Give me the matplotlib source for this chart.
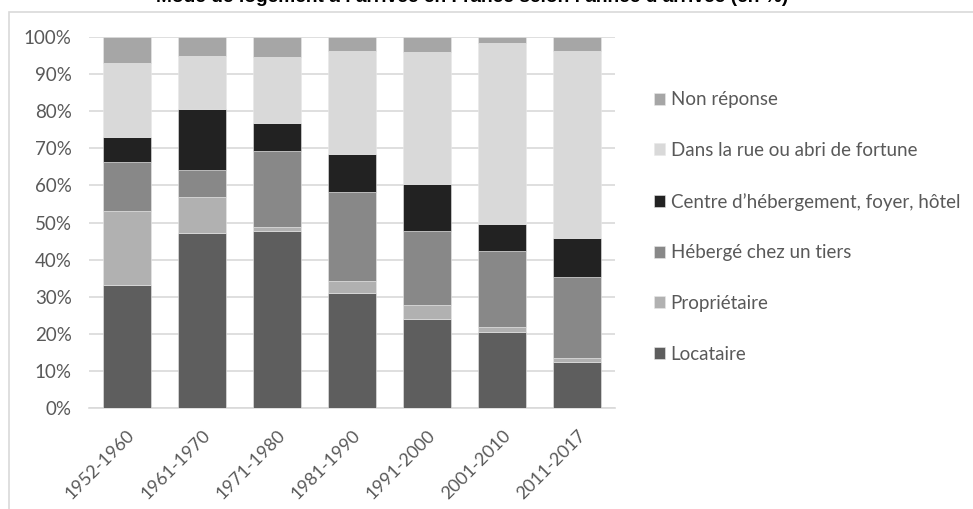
import numpy as np
import matplotlib.pyplot as plt
from matplotlib.patches import Rectangle

periodes = ['1952-1960', '1961-1970', '1971-1980', '1981-1990',
            '1991-2000', '2001-2010', '2011-2017']

# parts en % (de bas en haut)
locataire = [33.2, 47.1, 47.7, 31.1, 23.9, 20.6, 12.3]
proprietaire = [19.9, 9.8, 1.2, 3.2, 3.9, 1.3, 1.3]
heberge_tiers = [13.3, 7.2, 20.5, 24.0, 19.9, 20.4, 21.6]
centre_hebergement = [6.6, 16.6, 7.4, 10.1, 12.7, 7.4, 10.7]
rue_abri = [19.9, 14.3, 17.9, 27.8, 35.6, 48.6, 50.3]
non_reponse = [7.1, 5.0, 5.3, 3.8, 4.0, 1.7, 3.8]

series = [
    ('Locataire', locataire, '#5e5e5e'),
    ('Propriétaire', proprietaire, '#b1b1b1'),
    ('Hébergé chez un tiers', heberge_tiers, '#888888'),
    ('Centre d\u2019hébergement, foyer, hôtel', centre_hebergement, '#222222'),
    ('Dans la rue ou abri de fortune', rue_abri, '#d9d9d9'),
    ('Non réponse', non_reponse, '#a6a6a6'),
]

plt.rcParams['font.family'] = ['Lato', 'DejaVu Sans']

fig = plt.figure(figsize=(9.73, 5.09), dpi=100)
ax = fig.add_axes([89 / 973, 1 - 408 / 509, 526 / 973, 371 / 509])

x = np.arange(len(periodes))
bas = np.zeros(len(periodes))
handles = []
for nom, vals, coul in series:
    b = ax.bar(x, vals, width=0.64, bottom=bas, color=coul, label=nom,
               edgecolor='#e8e8e8', linewidth=0.4, zorder=3)
    handles.append(b)
    bas += np.array(vals)

ax.set_xlim(-0.5, len(periodes) - 0.5)
ax.set_ylim(0, 100)
ax.set_yticks(np.arange(0, 101, 10))
ax.set_yticklabels([f'{v}%' for v in range(0, 101, 10)])
ax.set_xticks(x)
ax.set_xticklabels(periodes, rotation=45, ha='right', rotation_mode='anchor')
ax.yaxis.grid(True, color='#d9d9d9', linewidth=1.2, zorder=0)
ax.set_axisbelow(True)
for s in ['top', 'right', 'left']:
    ax.spines[s].set_visible(False)
ax.spines['bottom'].set_color('#d9d9d9')
ax.spines['bottom'].set_linewidth(1.2)
ax.tick_params(axis='both', length=0, colors='#595959')
ax.tick_params(axis='y', pad=12.5, labelsize=13.5)
ax.tick_params(axis='x', pad=14, labelsize=13)

leg = fig.legend(handles[::-1], [s[0] for s in series][::-1],
                 loc='center left', bbox_to_anchor=(637 / 973, 1 - 227 / 509),
                 frameon=False, fontsize=13.5, handlelength=0.6,
                 handleheight=0.6, handletextpad=0.3, labelspacing=1.8,
                 labelcolor='#595959')

# cadre du graphique
fig.patches.append(Rectangle((9 / 973, -0.1), 1.2, 1.1 - 12 / 509,
                             transform=fig.transFigure, fill=False,
                             edgecolor='#d9d9d9', linewidth=1.2))

fig.text(0.485, 1 - 2.5 / 509,
         'Mode de logement à l\u2019arrivée en France selon l\u2019année d\u2019arrivée (en %)',
         ha='center', va='baseline', fontsize=13.8, fontweight='bold',
         family=['Liberation Sans', 'DejaVu Sans'])

fig.savefig('out.png', dpi=100)
